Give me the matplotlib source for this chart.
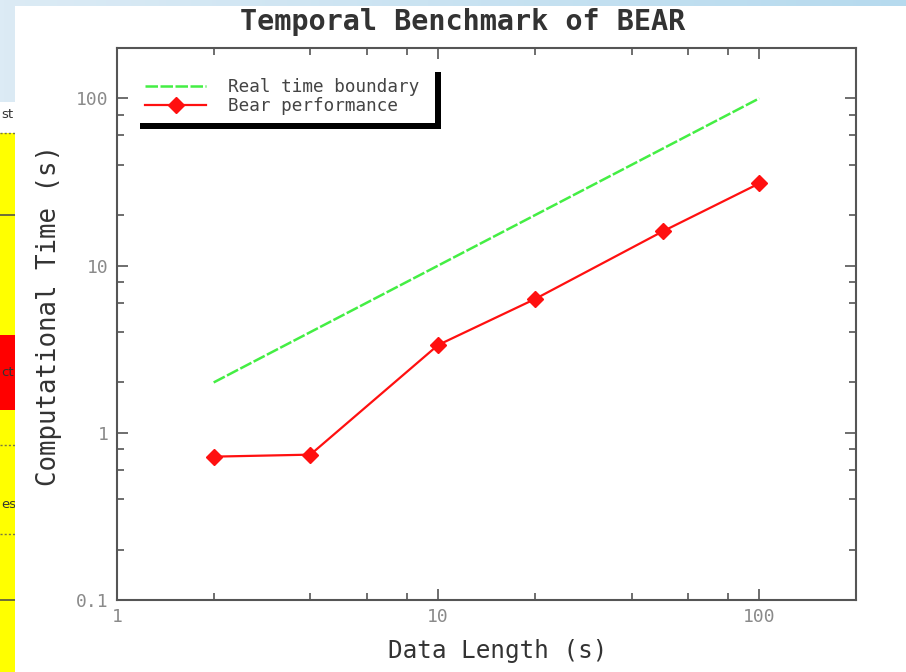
import numpy as np
import matplotlib
matplotlib.use("Agg")
import matplotlib.pyplot as plt
from matplotlib.patches import Rectangle
from matplotlib.ticker import LogLocator, FixedLocator, NullFormatter

# benchmark data
data_length = [2, 4, 10, 20, 50, 100]
bear_time = [0.72, 0.74, 3.35, 6.3, 16.0, 31.0]
boundary_x = [2, 100]
boundary_y = [2, 100]

xticks = [1, 10, 100]
xticklabels = ["1", "10", "100"]
yticks = [0.1, 1, 10, 100]
yticklabels = ["0.1", "1", "10", "100"]

W, H = 906, 672
fig = plt.figure(figsize=(W / 100, H / 100), dpi=100)


def fx(px):
    return px / W


def fy(py):
    return 1 - py / H


# slide background
bg = fig.add_axes([0, 0, 1, 1], zorder=-10)
grad = np.linspace(0, 1, 256).reshape(1, -1)
c0 = np.array([0xdc, 0xeb, 0xf5]) / 255
c1 = np.array([0xb6, 0xda, 0xee]) / 255
img = c0[None, None, :] * (1 - grad[..., None]) + c1[None, None, :] * grad[..., None]
bg.imshow(img, aspect="auto", extent=[0, 1, 0, 1])
bg.set_axis_off()

# table fragment on the left
def frect(x0, y0, x1, y1, **kw):
    fig.patches.append(Rectangle((fx(x0), fy(y1)), fx(x1) - fx(x0), fy(y0) - fy(y1),
                                 transform=fig.transFigure, figure=fig, **kw))

frect(0, 102, 20, 133, facecolor="white", edgecolor="none", zorder=-6)
frect(0, 133, 20, 672, facecolor="#ffff00", edgecolor="none", zorder=-6)
frect(0, 335, 20, 410, facecolor="#ff0000", edgecolor="none", zorder=-5)
for py in (215, 600):
    fig.add_artist(plt.Line2D([0, fx(20)], [fy(py), fy(py)], color="#555544", lw=1.2, zorder=-4))
for py in (133, 445, 534):
    fig.add_artist(plt.Line2D([0, fx(20)], [fy(py), fy(py)], color="#777744", lw=1.0,
                              ls=(0, (1.5, 1.5)), zorder=-4))
for py, s in ((115, "st"), (373, "ct"), (505, "es")):
    fig.text(fx(1), fy(py), s, ha="left", va="center", fontsize=9.5, color="#333333",
             family="DejaVu Sans", zorder=-4)

# white slide panel
frect(15, 6, 906, 672, facecolor="white", edgecolor="none", zorder=-1)

ax = fig.add_axes([fx(117), fy(600), fx(856) - fx(117), fy(48) - fy(600)])
ax.set_facecolor("white")

ax.plot(boundary_x, boundary_y, color="#44ee44", lw=1.8, ls=(0, (5, 1)),
        label="Real time boundary")
ax.plot(data_length, bear_time, color="#ff1010", lw=1.6, marker="D", markersize=8,
        markeredgecolor="#ff1010", label="Bear performance")

ax.set_xscale("log")
ax.set_yscale("log")
ax.set_xlim(1, 200)
ax.set_ylim(0.1, 200)

mono = "DejaVu Sans Mono"
ax.xaxis.set_major_locator(FixedLocator(xticks))
ax.yaxis.set_major_locator(FixedLocator(yticks))
ax.set_xticklabels(xticklabels, family=mono, fontsize=13, color="#8a8a8a")
ax.set_yticklabels(yticklabels, family=mono, fontsize=13, color="#8a8a8a")
ax.xaxis.set_minor_locator(LogLocator(base=10, subs=(2, 4, 6, 8)))
ax.yaxis.set_minor_locator(LogLocator(base=10, subs=(2, 4, 6, 8)))
ax.xaxis.set_minor_formatter(NullFormatter())
ax.yaxis.set_minor_formatter(NullFormatter())
ax.tick_params(which="both", direction="in", top=True, right=True, color="#555555", width=1.2)
ax.tick_params(which="major", length=8, pad=6)
ax.tick_params(which="minor", length=5)
for sp in ax.spines.values():
    sp.set_color("#555555")
    sp.set_linewidth(1.5)

ax.set_xlabel("Data Length (s)", family=mono, fontsize=17.5, color="#333333")
ax.set_ylabel("Computational Time (s)", family=mono, fontsize=18.5, color="#333333")
ax.xaxis.set_label_coords(0.5156, -0.070)
ax.yaxis.set_label_coords(-0.0744, 0.516)
fig.text(fx(463), fy(22), "Temporal Benchmark of BEAR", ha="center", va="center",
         family=mono, fontsize=20.5, fontweight="bold", color="#333333")

leg = ax.legend(loc="upper left", bbox_to_anchor=(0.028, 0.958), borderaxespad=0,
                frameon=False, handlelength=3.5, handletextpad=1.2, numpoints=1,
                prop={"family": mono, "size": 12.7}, labelcolor="#444444",
                labelspacing=0.05)

# white legend box with a black drop shadow
fig.canvas.draw()
bb = leg.get_window_extent(fig.canvas.get_renderer())
inv = ax.transAxes.inverted()
(bx0, by0), (bx1, by1) = inv.transform([(bb.x0 - 4, bb.y0 - 1), (bb.x1 + 9, bb.y1 + 5)])
(sx0, sy0), (sx1, sy1) = inv.transform([(bb.x0 + 2, bb.y0 - 7), (bb.x1 + 15, bb.y1 - 1)])
ax.add_patch(Rectangle((sx0, sy0), sx1 - sx0, sy1 - sy0, transform=ax.transAxes,
                       facecolor="black", edgecolor="none", zorder=4.8, clip_on=False))
ax.add_patch(Rectangle((bx0, by0), bx1 - bx0, by1 - by0, transform=ax.transAxes,
                       facecolor="white", edgecolor="none", zorder=4.9, clip_on=False))

fig.savefig("out.png", dpi=100)
